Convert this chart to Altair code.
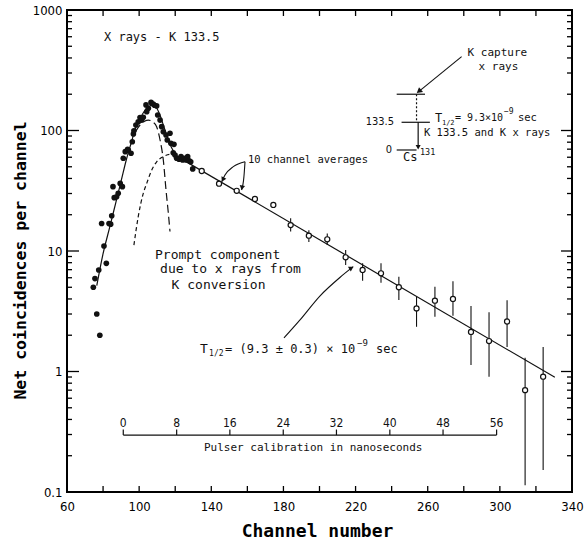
import altair as alt
import pandas as pd

# ---------------- data ----------------
# individual channels (filled dots)
dot_ch = [74.6, 75.5, 76.5, 77.6, 78.2, 79.2, 80.5, 81.8, 83.3, 84.2, 84.8, 85.5, 86.2, 87.5,
          88.4, 89.5, 90.7, 91.2, 92.3, 93.6, 94.0, 95.5, 96.2, 96.8, 97.1, 98.2, 99.5, 100.5,
          101.4, 102.3, 103.8, 104.2, 105.1, 106.6, 107.8, 108.5, 109.7, 110.3, 111.6, 112.5,
          113.4, 114.9, 115.6, 117.1, 117.6, 118.9, 119.3, 119.9, 120.8, 122.1, 123.2, 124.1,
          124.9, 126.0, 126.9, 127.8, 128.6, 129.7]
dot_val = [5.0, 5.9, 3.0, 6.95, 2.0, 16.9, 11.0, 7.9, 16.9, 16.7, 19.6, 34.2, 27.7, 28.2,
           30.1, 36.4, 34.2, 58.8, 66.7, 69.8, 68.9, 64.7, 80.7, 93.5, 99.6, 111, 118, 128,
           122, 128.7, 163, 143, 153, 171, 166, 162, 160, 134.5, 122, 107.6,
           97.7, 91.8, 83.4, 94.8, 78.3, 65.4, 76.8, 62.6, 58.8, 57.7, 60.7, 56.9,
           58.8, 56.9, 60.7, 56.1, 55.0, 48.0]

# 10 channel averages (open circles) with error bars
avg_ch = [134.7, 144.3, 154.1, 164.2, 174.4, 184.0, 194.1, 204.3, 214.5, 223.9, 234.1, 244.0,
          253.8, 264.0, 274.0, 284.0, 294.0, 304.0, 314.0, 324.0]
avg_val = [46.1, 36.2, 31.6, 27.0, 24.1, 16.4, 13.4, 12.5, 8.87, 6.96, 6.53, 5.0,
           3.34, 3.87, 4.0, 2.13, 1.79, 2.6, 0.70, 0.905]
avg_lo = [46.1, 36.2, 31.6, 27.0, 24.1, 14.5, 11.9, 11.2, 7.65, 5.67, 5.46, 3.92,
          2.35, 2.85, 2.9, 1.13, 0.905, 1.6, 0.114, 0.152]
avg_hi = [46.1, 36.2, 31.6, 27.0, 24.1, 18.7, 14.9, 14.0, 10.2, 7.9, 7.9, 6.1,
          4.18, 5.06, 5.6, 3.5, 3.1, 3.9, 1.3, 1.6]

# drawn curves
fit_rise_ch = [76.5, 80, 83.8, 87, 90, 93, 95.5, 98, 101, 104, 107, 109.5, 111.5, 113.5, 115.5, 118, 121]
fit_rise_val = [5.15, 9.5, 16, 25, 38, 58, 78, 105, 130, 152, 162, 155, 135, 110, 90, 72, 61]
fit_exp_ch = [121, 330.5]
fit_exp_val = [61, 0.895]
prompt_ch = [98, 101, 103, 105.1, 107.5, 109.7, 111.6, 113.4, 114.9, 116.2, 117.1]
prompt_val = [98, 113, 119.5, 122, 118, 107.6, 83.4, 56.9, 32, 20.5, 14.5]
delayed_ch = [97.1, 99.5, 102.3, 104.2, 107, 109.7, 113.4, 117.1, 120]
delayed_val = [11.2, 19.3, 30.1, 36.4, 47, 55, 60.7, 63.5, 62]

# pulser calibration (ns labels and their channel positions)
pulser_ns = ["0", "8", "16", "24", "32", "40", "48", "56"]
pulser_ch = [91.2, 120.8, 150.3, 179.9, 209.4, 239.0, 268.5, 298.2]

# axis tick values
x_labels = [60, 100, 140, 180, 220, 260, 300, 340]
x_ticks = [80, 100, 120, 140, 160, 180, 200, 220, 240, 260, 280, 300, 320]
y_labels = [0.1, 1, 10, 100, 1000]
y_major = [1, 10, 100]
y_minor = [m * 10.0 ** e for e in range(-1, 3) for m in range(2, 10)]

# ---------------- styling ----------------
MONO = "DejaVu Sans Mono"
NARROW = "DejaVu Sans Condensed, sans-serif"
W, H = 505, 482
XS = alt.Scale(domain=[60, 340], nice=False, zero=False)
YS = alt.Scale(type="log", domain=[0.1, 1000], nice=False)
INK = "#111111"


def X(f="ch"):
    return alt.X(f"{f}:Q", scale=XS)


def Y(f="v"):
    return alt.Y(f"{f}:Q", scale=YS)


def df(**cols):
    return pd.DataFrame(cols)


def txt(ch, v, s, size=12, align="left", font=MONO, dx=0, dy=0, weight="normal"):
    return alt.Chart(df(ch=[ch], v=[v], t=[s])).mark_text(
        align=align, baseline="middle", font=font, fontSize=size, dx=dx, dy=dy,
        fontWeight=weight, color=INK
    ).encode(x=X(), y=Y(), text="t:N")


def curve(chs, vals, dash=None, width=1.2, interp="monotone"):
    kw = dict(color=INK, strokeWidth=width, interpolate=interp)
    if dash:
        kw["strokeDash"] = dash
    return alt.Chart(df(ch=chs, v=vals, o=list(range(len(chs))))).mark_line(**kw).encode(
        x=X(), y=Y(), order="o:Q")


def seg(c1, v1, c2, v2, dash=None, width=1.2):
    kw = dict(color=INK, strokeWidth=width)
    if dash:
        kw["strokeDash"] = dash
    return alt.Chart(df(c1=[c1], v1=[v1], c2=[c2], v2=[v2])).mark_rule(**kw).encode(
        x=X("c1"), x2="c2:Q", y=Y("v1"), y2="v2:Q")


def head(ch, v, angle, size=30):
    return alt.Chart(df(ch=[ch], v=[v])).mark_point(
        shape="triangle", filled=True, color=INK, size=size, angle=angle, opacity=1
    ).encode(x=X(), y=Y())


# ---------------- layers ----------------
dots = alt.Chart(df(ch=dot_ch, v=dot_val)).mark_circle(size=32, color=INK, opacity=1).encode(
    x=alt.X("ch:Q", scale=XS, axis=alt.Axis(
        values=x_labels, ticks=False, domain=False, grid=False, labelFont=NARROW,
        labelFontSize=13, labelPadding=8, labelColor="black", labelFlush=False,
        title="Channel number", titleFont=MONO, titleFontSize=18, titleFontWeight="bold",
        titleColor="black", titleX=250, titleY=39, titleBaseline="middle", titleAlign="center")),
    y=alt.Y("v:Q", scale=YS, axis=alt.Axis(
        values=y_labels, ticks=False, domain=False, grid=False, labelFont=NARROW,
        labelFontSize=13, labelPadding=5, labelColor="black", labelFlush=False,
        labelExpr="datum.value < 1 ? '0.1' : format(datum.value, 'd')",
        title="Net coincidences per channel", titleFont=MONO, titleFontSize=16.5,
        titleFontWeight="bold", titleColor="black", titleX=-47, titleY=250,
        titleBaseline="middle", titleAlign="center", titleAngle=270)),
)

avg_df = df(ch=avg_ch, v=avg_val, lo=avg_lo, hi=avg_hi)
bars = alt.Chart(avg_df).mark_rule(color=INK, strokeWidth=1.1).encode(
    x=X(), y=Y("lo"), y2="hi:Q")
circles = alt.Chart(avg_df).mark_point(
    shape="circle", size=26, filled=True, fill="white", stroke=INK, strokeWidth=1.2, opacity=1
).encode(x=X(), y=Y())

fit_rise = curve(fit_rise_ch, fit_rise_val)
fit_exp = curve(fit_exp_ch, fit_exp_val, interp="linear")
prompt = curve(prompt_ch, prompt_val, dash=[8, 4])
delayed = curve(delayed_ch, delayed_val, dash=[4, 3])

# frame and inward ticks
xt = df(t=x_ticks)
ymin = df(t=y_minor)
ymaj = df(t=y_major)
tk = dict(color="black", strokeWidth=1.3)
fr = dict(color="black", strokeWidth=2)
frame = [
    alt.Chart(df(a=[0])).mark_rule(**fr).encode(x=alt.value(0), x2=alt.value(W), y=alt.value(0)),
    alt.Chart(df(a=[0])).mark_rule(**fr).encode(x=alt.value(0), x2=alt.value(W), y=alt.value(H)),
    alt.Chart(df(a=[0])).mark_rule(**fr).encode(y=alt.value(0), y2=alt.value(H), x=alt.value(0)),
    alt.Chart(df(a=[0])).mark_rule(**fr).encode(y=alt.value(0), y2=alt.value(H), x=alt.value(W)),
]
ticks = [
    alt.Chart(xt).mark_rule(**tk).encode(x=X("t"), y=alt.value(H), y2=alt.value(H - 6)),
    alt.Chart(xt).mark_rule(**tk).encode(x=X("t"), y=alt.value(0), y2=alt.value(6)),
    alt.Chart(ymin).mark_rule(**tk).encode(y=Y("t"), x=alt.value(0), x2=alt.value(5)),
    alt.Chart(ymaj).mark_rule(**tk).encode(y=Y("t"), x=alt.value(0), x2=alt.value(12)),
    alt.Chart(ymin).mark_rule(**tk).encode(y=Y("t"), x=alt.value(W), x2=alt.value(W - 5)),
    alt.Chart(ymaj).mark_rule(**tk).encode(y=Y("t"), x=alt.value(W), x2=alt.value(W - 11)),
]

# pulser calibration scale
pul_df = df(ch=pulser_ch, t=pulser_ns, v=[0.297] * len(pulser_ch), top=[0.33] * len(pulser_ch),
            lab=[0.376] * len(pulser_ch))
pulser = [
    seg(pulser_ch[0], 0.297, pulser_ch[-1], 0.297, width=1.3),
    alt.Chart(pul_df).mark_rule(color=INK, strokeWidth=1.2).encode(x=X(), y=Y("v"), y2="top:Q"),
    alt.Chart(pul_df).mark_text(font=NARROW, fontSize=12, color=INK, baseline="middle").encode(
        x=X(), y=Y("lab"), text="t:N"),
    txt(257.1, 0.2325, "Pulser calibration in nanoseconds", size=11, align="right"),
]

# annotations
ann = [
    txt(80.5, 600, "X rays - K 133.5", size=12),
    # 10 channel averages
    txt(160.3, 56.9, "10 channel averages", size=10.5),
    curve([158.7, 152.2, 147.6, 145.8], [55.1, 50.1, 42.7, 37.6], width=1.1),
    curve([158.7, 158.1, 156.8], [55.1, 41.4, 32.1], width=1.1),
    head(146.6, 39.6, 206),
    head(157.1, 34.0, 190),
    # prompt component label
    txt(108.8, 9.27, "Prompt component", size=13),
    txt(111.6, 7.05, "due to x rays from", size=13),
    txt(118.0, 5.22, "K conversion", size=13),
    # half-life of fit
    txt(133.8, 1.55, "T", size=13),
    txt(133.8, 1.55, "1/2", size=8, dx=9, dy=5),
    txt(133.8, 1.55, "= (9.3 \u00b1 0.3) \u00d7 10", size=12, dx=25),
    txt(133.8, 1.55, "\u22129", size=9, dx=157, dy=-6),
    txt(133.8, 1.55, "sec", size=12, dx=176),
    curve([180.3, 189.2, 200.2, 211.3, 218.7], [1.90, 2.68, 4.23, 6.03, 7.41], width=1.1),
    head(217.3, 7.18, 58),
    # decay scheme
    txt(298.6, 440, "K capture", size=11, align="center"),
    txt(299.2, 336, "x rays", size=11, align="center"),
    seg(278.8, 410, 255.5, 213.5, width=1.1),
    head(255.5, 213.5, 231, size=40),
    seg(242.8, 200, 258.5, 200),
    seg(245.5, 117, 261.2, 117),
    seg(242.8, 68.9, 253.8, 68.9),
    seg(253.8, 200, 253.8, 117, dash=[2, 2]),
    seg(254.7, 117, 254.7, 73.6),
    head(254.7, 73.6, 180, size=25),
    txt(241.3, 117, "133.5", size=11, align="right", font=NARROW),
    txt(240.2, 68.9, "0", size=11, align="right", font=NARROW),
    txt(264.0, 127, "T", size=12),
    txt(264.0, 127, "1/2", size=7, dx=7, dy=5),
    txt(264.0, 127, "= 9.3\u00d710", size=10, dx=20),
    txt(264.0, 127, "\u22129", size=8, dx=69, dy=-6),
    txt(264.0, 127, "sec", size=10.5, dx=83),
    txt(257.9, 95.3, "K 133.5 and K x rays", size=10.5),
    txt(246.3, 60.3, "Cs", size=12),
    txt(255.7, 66.7, "131", size=8.5),
]

chart = alt.layer(
    *ticks, fit_rise, fit_exp, prompt, delayed, bars, circles, dots, *pulser, *ann, *frame
).properties(
    width=W, height=H,
    autosize=alt.AutoSizeParams(type="none"),
    padding={"left": 67, "top": 10, "right": 13, "bottom": 49},
).configure(background="white", view=alt.ViewConfig(stroke="black", strokeWidth=2))

chart.save("out.html", embed_options={"renderer": "svg", "actions": False})
